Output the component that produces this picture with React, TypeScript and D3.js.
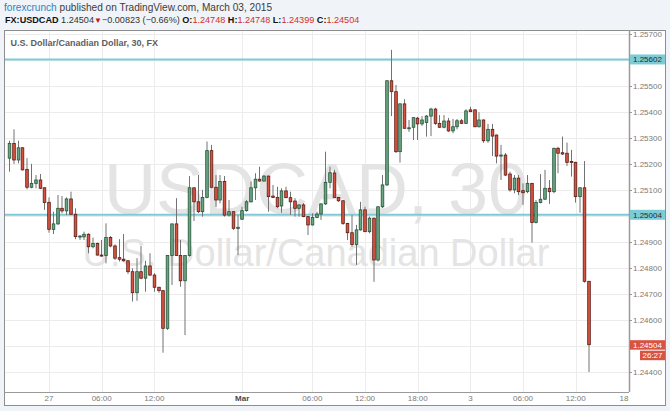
import React from "react";
import * as d3 from "d3";

// 30-minute USDCAD candles, Feb 27 – Mar 3 2015
const opens = [
  1.25222,1.25279,1.25215,1.25262,1.25179,1.25110,1.25125,1.25138,1.25108,1.25052,
  1.24948,1.24969,1.25029,1.25019,1.25065,1.25006,1.24919,1.24919,1.24929,1.24881,
  1.24894,1.24849,1.24847,1.24917,1.24884,1.24839,1.24833,1.24827,1.24785,1.24704,
  1.24785,1.24760,1.24807,1.24772,1.24725,1.24712,1.24567,1.24847,1.24969,1.24847,
  1.24750,1.24847,1.25108,1.25054,1.25016,1.25071,1.25251,1.25110,1.25061,1.25132,
  1.25003,1.25016,1.24951,1.24987,1.25020,1.25054,1.25108,1.25141,1.25134,1.25153,
  1.25076,1.25071,1.25038,1.25096,1.25070,1.25057,1.25029,1.25042,1.24997,1.24965,
  1.24994,1.25007,1.25046,1.25129,1.25165,1.25071,1.25058,1.24971,1.24935,1.24890,
  1.24946,1.25023,1.24939,1.24991,1.24830,1.25035,1.25119,1.25520,1.25478,1.25247,
  1.25431,1.25336,1.25341,1.25376,1.25354,1.25359,1.25384,1.25411,1.25356,1.25341,
  1.25365,1.25327,1.25343,1.25366,1.25356,1.25408,1.25408,1.25343,1.25369,1.25289,
  1.25333,1.25311,1.25230,1.25234,1.25161,1.25100,1.25145,1.25097,1.25093,1.25125,
  1.24974,1.25051,1.25064,1.25106,1.25093,1.25260,1.25243,1.25241,1.25209,1.25206,
  1.25074,1.25108,1.24748,
];
const highs = [
  1.25289,1.25333,1.25289,1.25264,1.25222,1.25200,1.25157,1.25161,1.25110,1.25071,
  1.25016,1.25080,1.25076,1.25071,1.25093,1.25029,1.24926,1.24939,1.24933,1.24916,
  1.24897,1.24907,1.24971,1.24922,1.24890,1.24910,1.24930,1.24830,1.24798,1.24837,
  1.24884,1.24827,1.24856,1.24779,1.24727,1.24714,1.24847,1.24969,1.25068,1.24907,
  1.24847,1.25153,1.25108,1.25157,1.25100,1.25286,1.25273,1.25157,1.25157,1.25153,
  1.25061,1.25016,1.25003,1.25035,1.25061,1.25132,1.25164,1.25189,1.25157,1.25155,
  1.25119,1.25112,1.25106,1.25112,1.25093,1.25068,1.25044,1.25049,1.24999,1.25010,
  1.25016,1.25048,1.25247,1.25189,1.25177,1.25073,1.25061,1.24973,1.25003,1.24965,
  1.25054,1.25035,1.24997,1.24993,1.25035,1.25157,1.25522,1.25639,1.25504,1.25433,
  1.25449,1.25369,1.25380,1.25381,1.25384,1.25388,1.25416,1.25416,1.25388,1.25388,
  1.25377,1.25373,1.25373,1.25373,1.25410,1.25420,1.25410,1.25399,1.25371,1.25354,
  1.25354,1.25313,1.25273,1.25242,1.25170,1.25157,1.25157,1.25125,1.25157,1.25127,
  1.25061,1.25161,1.25177,1.25138,1.25262,1.25266,1.25305,1.25282,1.25254,1.25208,
  1.25110,1.25211,1.24748,
];
const lows = [
  1.25170,1.25200,1.25202,1.25175,1.25102,1.25106,1.25106,1.25103,1.25023,1.24935,
  1.24930,1.24965,1.25010,1.25003,1.25006,1.24910,1.24907,1.24907,1.24856,1.24875,
  1.24847,1.24843,1.24817,1.24879,1.24830,1.24824,1.24824,1.24776,1.24670,1.24673,
  1.24756,1.24708,1.24768,1.24708,1.24704,1.24473,1.24561,1.24734,1.24847,1.24727,
  1.24541,1.24843,1.24980,1.25011,1.24997,1.25068,1.25106,1.25035,1.25048,1.24997,
  1.24997,1.24946,1.24849,1.24984,1.25016,1.25051,1.25061,1.25132,1.25132,1.25016,
  1.25069,1.25029,1.25012,1.25068,1.25003,1.24997,1.24997,1.24995,1.24926,1.24963,
  1.24991,1.24984,1.25042,1.25106,1.25069,1.25054,1.24965,1.24907,1.24881,1.24811,
  1.24943,1.24938,1.24933,1.24746,1.24824,1.25030,1.25115,1.25384,1.25242,1.25205,
  1.25335,1.25323,1.25292,1.25292,1.25346,1.25305,1.25307,1.25350,1.25338,1.25337,
  1.25323,1.25318,1.25333,1.25354,1.25354,1.25400,1.25341,1.25340,1.25281,1.25281,
  1.25230,1.25202,1.25138,1.25153,1.25093,1.25087,1.25080,1.25042,1.25087,1.24897,
  1.24971,1.25048,1.25061,1.25046,1.25087,1.25164,1.25234,1.25192,1.25151,1.25051,
  1.25012,1.24743,1.24399,
];
const closes = [
  1.25279,1.25215,1.25262,1.25177,1.25110,1.25125,1.25138,1.25106,1.25051,1.24948,
  1.24969,1.25029,1.25019,1.25065,1.25006,1.24920,1.24922,1.24929,1.24881,1.24894,
  1.24849,1.24845,1.24917,1.24884,1.24837,1.24833,1.24827,1.24785,1.24704,1.24785,
  1.24760,1.24807,1.24772,1.24725,1.24712,1.24567,1.24847,1.24969,1.24847,1.24750,
  1.24847,1.25108,1.25054,1.25016,1.25071,1.25251,1.25110,1.25061,1.25132,1.25003,
  1.25016,1.24952,1.24956,1.25020,1.25054,1.25108,1.25141,1.25134,1.25153,1.25074,
  1.25071,1.25035,1.25096,1.25070,1.25054,1.25029,1.25042,1.24997,1.24965,1.24994,
  1.25007,1.25046,1.25129,1.25166,1.25071,1.25058,1.24971,1.24935,1.24890,1.24946,
  1.25023,1.24939,1.24991,1.24830,1.25035,1.25119,1.25520,1.25478,1.25247,1.25431,
  1.25337,1.25339,1.25378,1.25354,1.25369,1.25384,1.25411,1.25356,1.25341,1.25365,
  1.25327,1.25343,1.25366,1.25356,1.25404,1.25401,1.25343,1.25369,1.25289,1.25333,
  1.25307,1.25230,1.25234,1.25157,1.25100,1.25145,1.25093,1.25089,1.25125,1.24974,
  1.25051,1.25064,1.25106,1.25093,1.25260,1.25241,1.25238,1.25206,1.25205,1.25074,
  1.25108,1.24748,1.24504,
];

const gridPrices = [1.257,1.256,1.255,1.254,1.253,1.252,1.251,1.25,1.249,1.248,1.247,1.246,1.245,1.244];
const priceTickPrices = [1.257,1.255,1.254,1.253,1.252,1.251,1.249,1.248,1.247,1.246,1.244];
const timeTickIndex = [9,21,33,53,69,81,93,105,117,129,141];
const timeTickLabels = ["27","06:00","12:00","Mar","06:00","12:00","18:00","3","06:00","12:00","18"];
const levelPrices = [1.25602, 1.25004];
const lastPrice = 1.24504;
const countdown = "26:27";

const headerPublisher = "forexcrunch";
const headerRest = " published on TradingView.com, March 03, 2015";
const symbol = "FX:USDCAD";
const change = "\u22120.00823 (\u22120.66%)";
const ohlcLabels = ["O:", "H:", "L:", "C:"];
const ohlcValues = ["1.24748", "1.24748", "1.24399", "1.24504"];
const chartTitle = "U.S. Dollar/Canadian Dollar, 30, FX";
const watermark1 = "USDCAD, 30";
const watermark2 = "U.S. Dollar/Canadian Dollar";

export default function App() {
  const W = 670, H = 411;
  const plotL = 4, plotR = 629, plotT = 30, plotB = 392;
  const x = d3.scaleLinear().domain([0, 141]).range([9.53, 628.4]);
  const y = d3.scaleLinear().domain([1.244, 1.257]).range([371.7, 34]);
  const up = "#6ba583", down = "#d75442", upB = "#225437", downB = "#5b1a13", wickC = "#737375";
  const font = "'Liberation Sans', Arial, Helvetica, sans-serif";
  const fmt = d3.format(".5f");
  const cyan = "#7ccbd7";
  const redTxt = "#d0312d";
  const bw = 2.6;

  return (
    <div style={{ position: "fixed", left: 0, top: 0, width: W, height: H }}>
      <svg width={W} height={H} style={{ display: "block" }} fontFamily={font}>
        <rect width={W} height={H} fill="#f0f3f7" />
        <rect x={4.5} y={30.5} width={661} height={375} fill="#ffffff" stroke="#8e8e8e" />
        <defs>
          <clipPath id="plotClip">
            <rect x={plotL + 1} y={plotT + 1} width={plotR - plotL - 1} height={plotB - plotT - 1} />
          </clipPath>
        </defs>
        <g clipPath="url(#plotClip)">
          {gridPrices.map((p, i) => (
            <line key={"hg" + i} x1={plotL} x2={plotR} y1={Math.round(y(p)) + 0.5} y2={Math.round(y(p)) + 0.5} stroke="#ececec" />
          ))}
          {timeTickIndex.map((t, i) =>
            x(t) < plotR - 2 ? (
              <line key={"vg" + i} x1={Math.round(x(t)) + 0.5} x2={Math.round(x(t)) + 0.5} y1={plotT} y2={plotB} stroke="#ececec" />
            ) : null
          )}
          <text x={316} y={213.5} textAnchor="middle" fontSize={72} fill="#e4e4e4">{watermark1}</text>
          <text x={316} y={266} textAnchor="middle" fontSize={38} fill="#e4e4e4">{watermark2}</text>
          {levelPrices.map((p, i) => (
            <line key={"lv" + i} x1={plotL} x2={plotR} y1={y(p)} y2={y(p)} stroke={cyan} strokeWidth={2} />
          ))}
          {opens.map((o, i) => {
            const c = closes[i];
            const isUp = c >= o;
            const cx = Math.round(x(i) * 2) / 2;
            const top = y(Math.max(o, c));
            const bot = y(Math.min(o, c));
            const h = Math.max(bot - top, 1);
            return (
              <g key={"c" + i}>
                <line x1={cx} x2={cx} y1={y(highs[i])} y2={y(lows[i])} stroke={wickC} strokeWidth={1} />
                <rect x={cx - bw / 2} y={top} width={bw} height={h} fill={isUp ? up : down} stroke={isUp ? upB : downB} strokeWidth={0.8} />
              </g>
            );
          })}
        </g>
        {/* axes separators */}
        <line x1={plotR + 0.5} x2={plotR + 0.5} y1={plotT} y2={plotB} stroke="#9a9a9a" strokeWidth={1.5} />
        <line x1={plotL} x2={plotR} y1={plotB + 0.5} y2={plotB + 0.5} stroke="#9a9a9a" strokeWidth={1.2} />
        {/* price labels */}
        {priceTickPrices.map((p, i) => (
          <g key={"pt" + i}>
            <line x1={plotR} x2={plotR + 3} y1={Math.round(y(p)) + 0.5} y2={Math.round(y(p)) + 0.5} stroke="#999" />
            <text x={633} y={y(p) + 3} fontSize={8} fill="#7a7a7a">{fmt(p)}</text>
          </g>
        ))}
        {levelPrices.map((p, i) => (
          <g key={"lb" + i}>
            <rect x={plotR + 1} y={y(p) - 5} width={665 - plotR - 1} height={10} fill={cyan} />
            <text x={633} y={y(p) + 3} fontSize={8} fill="#2a2a2a">{fmt(p)}</text>
          </g>
        ))}
        <rect x={plotR + 1} y={y(lastPrice) - 4.5} width={665 - plotR - 1} height={9.5} fill={down} />
        <text x={633} y={y(lastPrice) + 3} fontSize={8} fill="#ffffff">{fmt(lastPrice)}</text>
        <rect x={640} y={y(lastPrice) + 6} width={25} height={9.5} fill={down} />
        <text x={652.5} y={y(lastPrice) + 13.5} fontSize={8} fill="#ffffff" textAnchor="middle">{countdown}</text>
        {/* time labels */}
        {timeTickIndex.map((t, i) => (
          <text key={"tl" + i} x={Math.min(x(t), 624)} y={401} fontSize={8} textAnchor="middle"
            fill={timeTickLabels[i] === "Mar" ? "#4a4a4a" : "#7a7a7a"} fontWeight={timeTickLabels[i] === "Mar" ? "bold" : "normal"}>
            {timeTickLabels[i]}
          </text>
        ))}
        {/* chart title */}
        <text x={10.5} y={45.5} fontSize={9} fontWeight="bold" fill="#5e5e5e">{chartTitle}</text>
        {/* header */}
        <text x={4} y={10.5} fontSize={10.1}>
          <tspan fill="#2f7fc4">{headerPublisher}</tspan>
          <tspan fill="#3c3c3c">{headerRest}</tspan>
        </text>
        <text x={5} y={23} fontSize={9.1}>
          <tspan fontWeight="bold" fill="#111">{symbol}</tspan>
          <tspan fill="#333"> {fmt(lastPrice)}</tspan>
          <tspan fill="#c4161c" fontSize={8}>{"\u25BC"}</tspan>
          <tspan fill="#333">{change} </tspan>
          {ohlcLabels.map((l, i) => (
            <React.Fragment key={"oh" + i}>
              <tspan fontWeight="bold" fill="#111">{(i > 0 ? " " : "") + l}</tspan>
              <tspan fill={redTxt}>{ohlcValues[i]}</tspan>
            </React.Fragment>
          ))}
        </text>
      </svg>
    </div>
  );
}
